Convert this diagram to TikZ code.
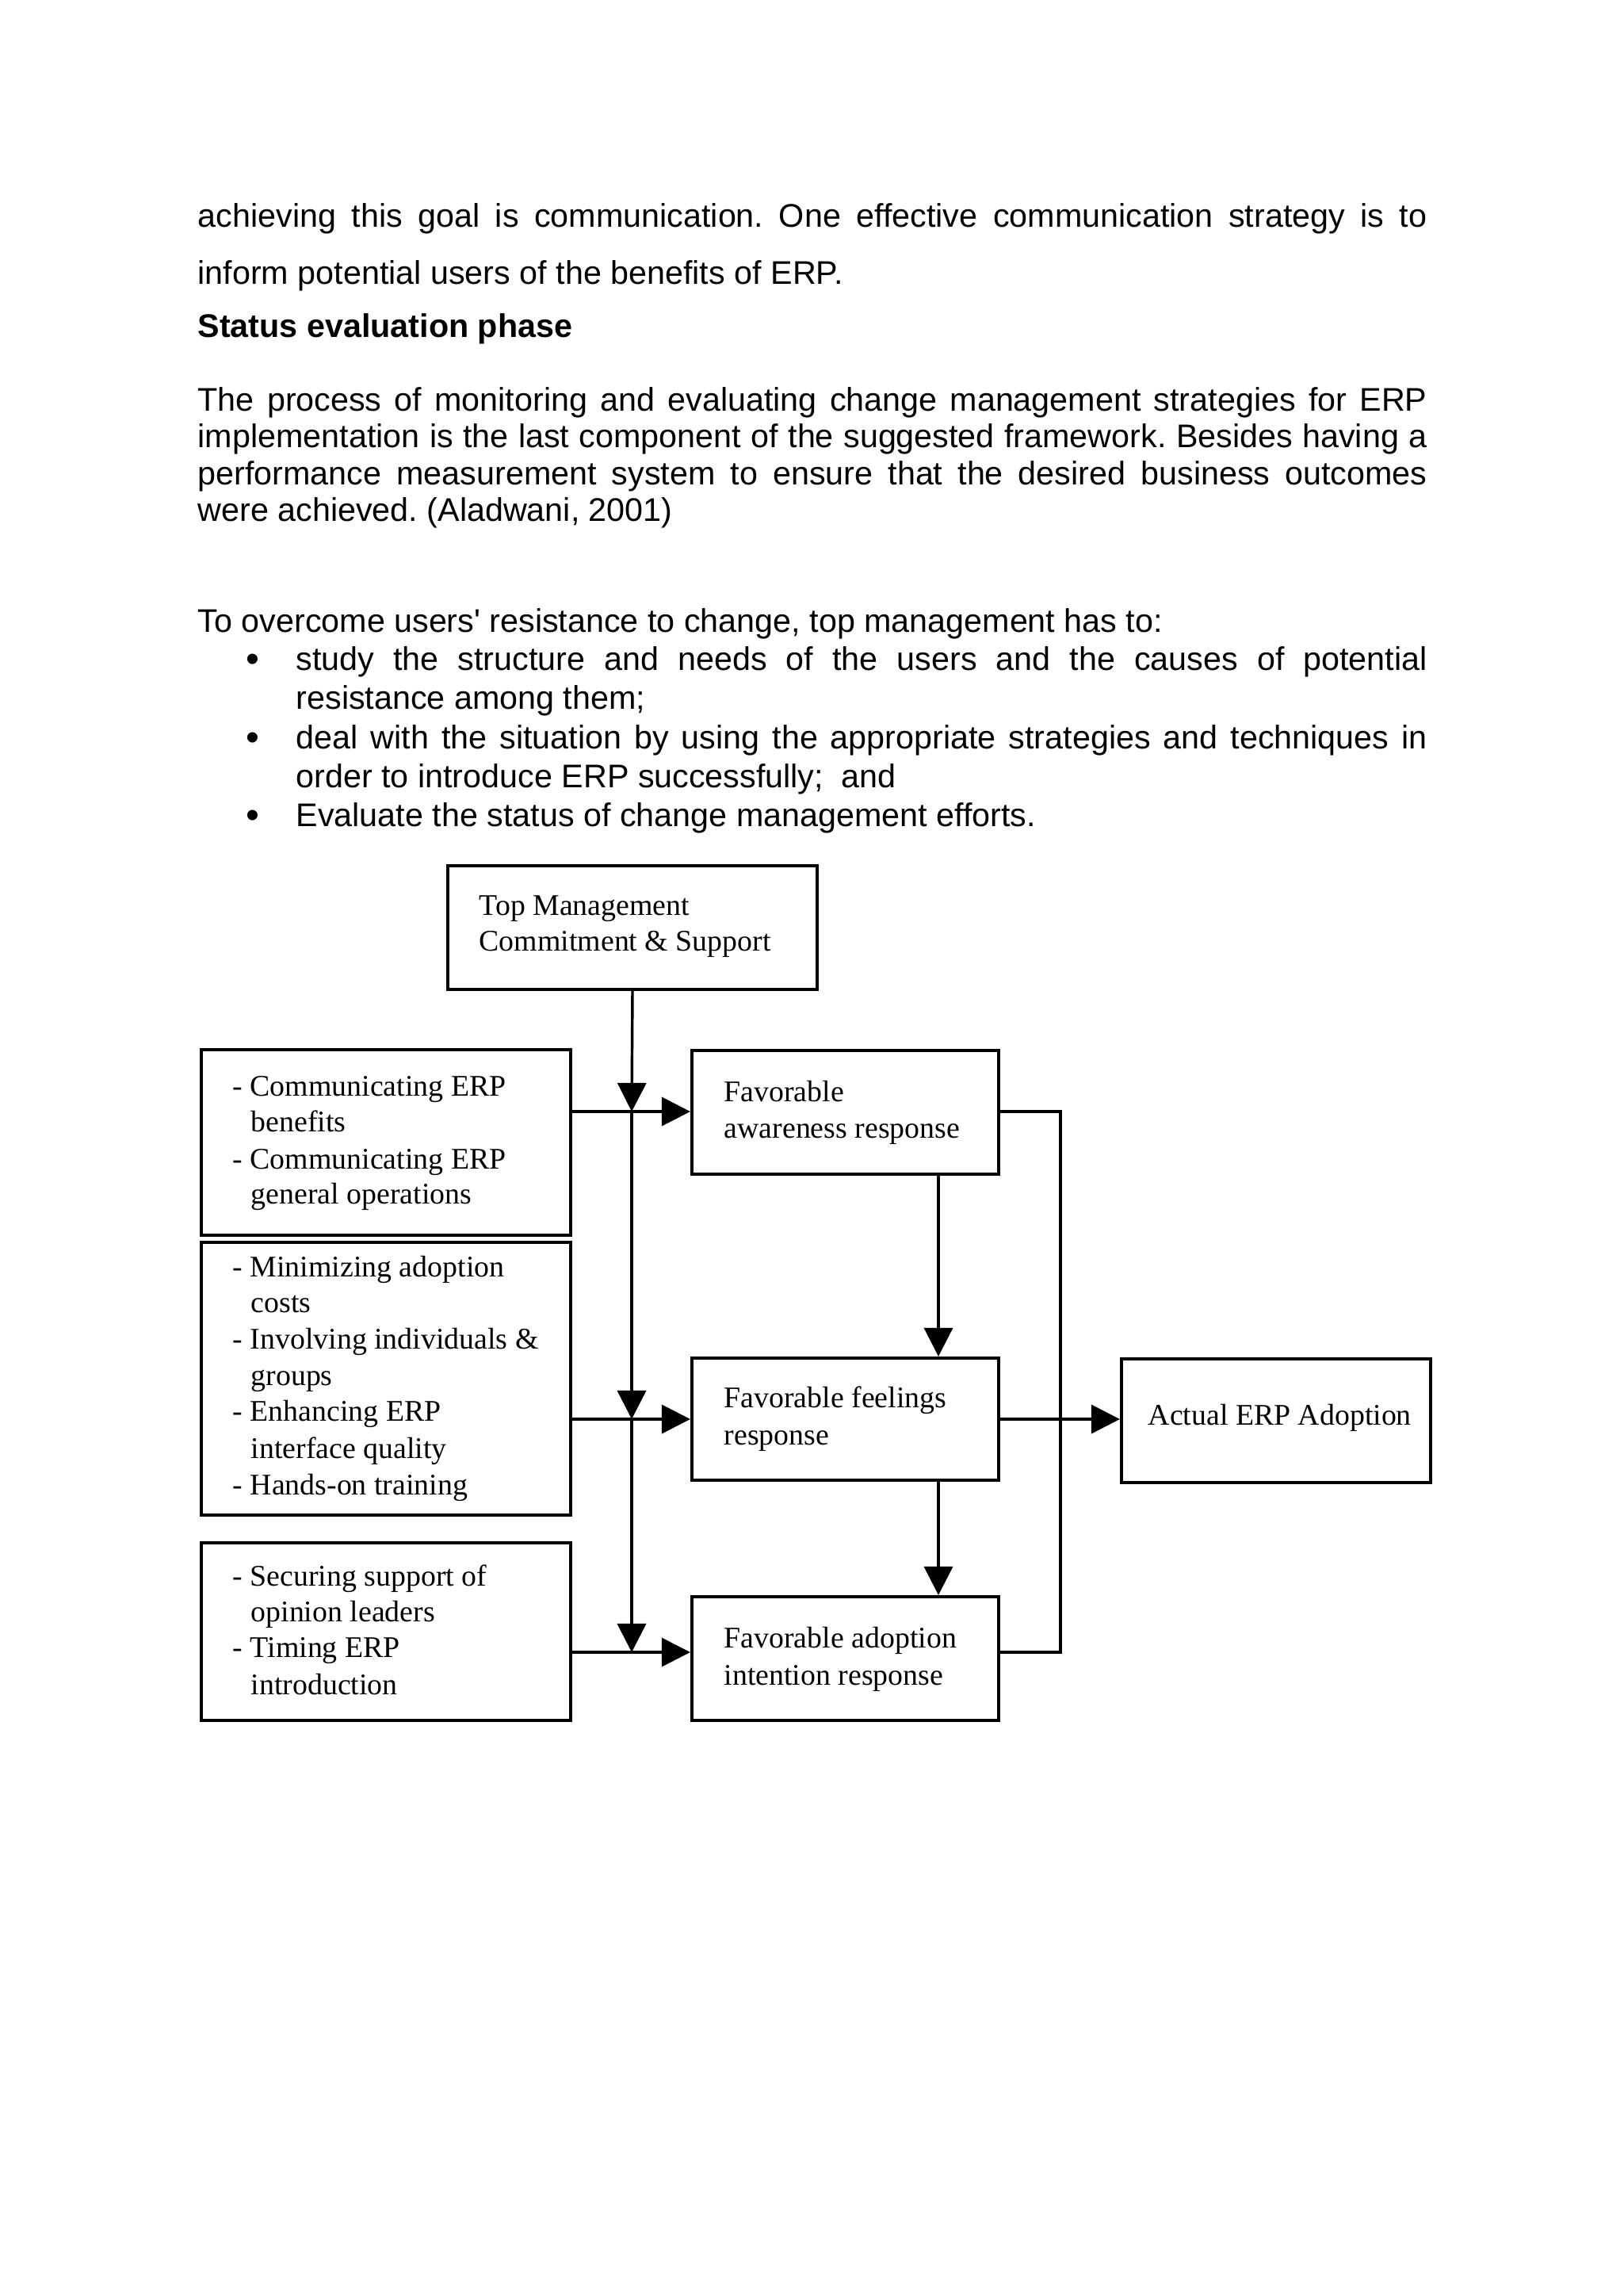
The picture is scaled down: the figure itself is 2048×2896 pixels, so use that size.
\documentclass[tikz,border=0pt]{standalone}
\usepackage{fontspec}
\setmainfont{Liberation Sans}
\newfontfamily\diagfont{Liberation Serif}
\usetikzlibrary{arrows.meta,fit}
\newlength\bodyw \setlength\bodyw{450.8pt}
\newlength\bulw \setlength\bulw{414.8pt}
\frenchspacing
\begin{document}
\begin{tikzpicture}[x=0.29066pt,y=-0.29066pt,
  txt/.style={anchor=base west, inner sep=0pt, font=\fontsize{12}{14}\selectfont},
  btxt/.style={txt, font=\fontsize{12}{14}\selectfont\bfseries},
  bul/.style={anchor=base, inner sep=0pt, font=\fontsize{14}{14}\selectfont},
  dtxt/.style={anchor=base west, inner sep=0pt, font=\diagfont\fontsize{11}{13}\selectfont},
  box/.style={draw, line width=1.2pt, inner sep=0pt},
  conn/.style={line width=1pt},
  arr/.style={conn, -{Triangle[length=10.5pt,width=10.5pt]}}]
\fill[white] (0,0) rectangle (2048,2896);
\useasboundingbox (0,0) rectangle (2048,2896);

% ---------- body text ----------
\node[txt] (l1) at (249,286) {\makebox[\bodyw][s]{achieving this goal is communication. One effective communication strategy is to}};
\node[txt] (l2) at (249,358) {inform potential users of the benefits of ERP.};
\node[btxt] (l3) at (249,425) {Status evaluation phase};
\node[txt] (p1) at (249,518) {\makebox[\bodyw][s]{The process of monitoring and evaluating change management strategies for ERP}};
\node[txt] (p2) at (249,564) {\makebox[\bodyw][s]{implementation is the last component of the suggested framework. Besides having a}};
\node[txt] (p3) at (249,611) {\makebox[\bodyw][s]{performance measurement system to ensure that the desired business outcomes}};
\node[txt] (p4) at (249,657) {were achieved. (Aladwani, 2001)};
\node[txt] (q0) at (249,797) {To overcome users\textquotesingle{} resistance to change, top management has to:};
\node[bul] (b1) at (319,847) {•};
\node[txt] (q1) at (373,845) {\makebox[\bulw][s]{study the structure and needs of the users and the causes of potential}};
\node[txt] (q2) at (373,894) {resistance among them;};
\node[bul] (b2) at (319,946) {•};
\node[txt] (q3) at (373,944) {\makebox[\bulw][s]{deal with the situation by using the appropriate strategies and techniques in}};
\node[txt] (q4) at (373,993) {order to introduce ERP successfully; \ and};
\node[bul] (b3) at (319,1044) {•};
\node[txt] (q5) at (373,1042) {Evaluate the status of change management efforts.};

% ---------- boxes ----------
\node[box, fit={(565,1092) (1031,1248)}] (top) {};
\node[box, fit={(254,1324) (720,1558)}] (L1) {};
\node[box, fit={(254,1567) (720,1911)}] (L2) {};
\node[box, fit={(254,1946) (720,2170)}] (L3) {};
\node[box, fit={(873,1325) (1260,1481)}] (A) {};
\node[box, fit={(873,1713) (1260,1867)}] (B) {};
\node[box, fit={(873,2014) (1260,2170)}] (C) {};
\node[box, fit={(1415,1714) (1805,1870)}] (act) {};

% ---------- box texts ----------
\node[dtxt] (t1) at (604,1154) {Top Management};
\node[dtxt] (t2) at (604,1199) {Commitment \& Support};

\node[dtxt] (a1) at (293,1382) {- Communicating ERP};
\node[dtxt] (a2) at (316,1427) {benefits};
\node[dtxt] (a3) at (293,1474) {- Communicating ERP};
\node[dtxt] (a4) at (316,1518) {general operations};

\node[dtxt] (c1) at (293,1610) {- Minimizing adoption};
\node[dtxt] (c2) at (316,1655) {costs};
\node[dtxt] (c3) at (293,1701) {- Involving individuals \&};
\node[dtxt] (c4) at (316,1747) {groups};
\node[dtxt] (c5) at (293,1792) {- Enhancing ERP};
\node[dtxt] (c6) at (316,1839) {interface quality};
\node[dtxt] (c7) at (293,1885) {- Hands-on training};

\node[dtxt] (d1) at (293,2000) {- Securing support of};
\node[dtxt] (d2) at (316,2045) {opinion leaders};
\node[dtxt] (d3) at (293,2090) {- Timing ERP};
\node[dtxt] (d4) at (316,2137) {introduction};

\node[dtxt] (e1) at (913,1389) {Favorable};
\node[dtxt] (e2) at (913,1435) {awareness response};
\node[dtxt] (f1) at (913,1775) {Favorable feelings};
\node[dtxt] (f2) at (913,1822) {response};
\node[dtxt] (g1) at (913,2078) {Favorable adoption};
\node[dtxt] (g2) at (913,2125) {intention response};
\node[dtxt] (h1) at (1448,1797) {Actual ERP Adoption};

% ---------- connectors ----------
\coordinate (jA) at (797,1402);
\coordinate (jB) at (797,1790);
\coordinate (jC) at (797,2084);
\coordinate (ax) at (1184,0);
\coordinate (br1) at (1338,1402);
\coordinate (br2) at (1338,2084);

\draw[arr] (top.south) -- (jA);
\draw[arr] (jA) -- (jB);
\draw[arr] (jB) -- (jC);
\draw[arr] (L1.east |- jA) -- (A.west |- jA);
\draw[arr] (L2.east |- jB) -- (B.west |- jB);
\draw[arr] (L3.east |- jC) -- (C.west |- jC);
\draw[arr] (A.south -| ax) -- (B.north -| ax);
\draw[arr] (B.south -| ax) -- (C.north -| ax);
\draw[conn] (A.east |- br1) -- (br1) -- (br2) -- (C.east |- br2);
\draw[arr] (B.east |- jB) -- (act.west |- jB);
\end{tikzpicture}
\end{document}
